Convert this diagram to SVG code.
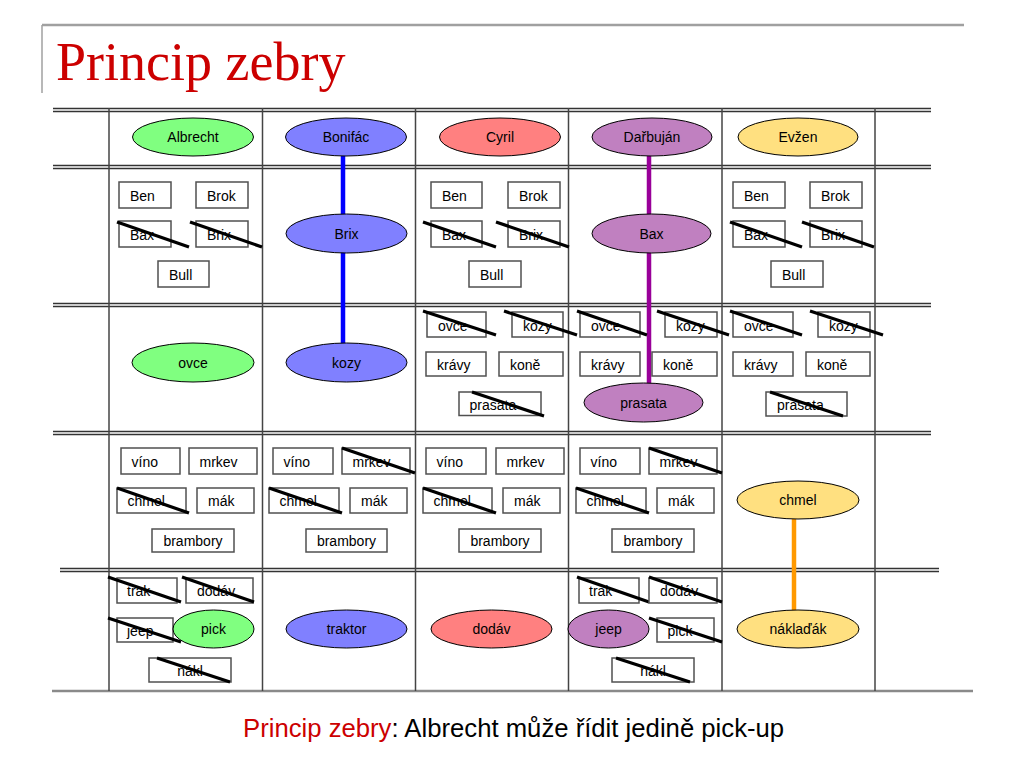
<svg xmlns="http://www.w3.org/2000/svg" width="1024" height="768" viewBox="0 0 1024 768">
<style>
.frame{stroke:#a0a0a0;fill:none}
.hl{stroke:#333;stroke-width:1.3;fill:none}
.vl{stroke:#444;stroke-width:1.5;fill:none}
.bl{stroke:#8a8a8a;stroke-width:2.5;fill:none}
.box rect{fill:#fff;stroke:#505050;stroke-width:1.5}
.t{font-family:"Liberation Sans",Arial,sans-serif;font-size:14px;fill:#000}
.c{text-anchor:middle}
.x{stroke:#000;stroke-width:3.2}
.node ellipse{stroke:#000;stroke-width:1}
.g{fill:#80ff80}.b{fill:#8080ff}.r{fill:#ff8080}.p{fill:#c080c0}.y{fill:#ffe080}
.conn line{stroke-width:4.5;fill:none}
</style>
<rect width="1024" height="768" fill="#fff"/>
<g id="title">
<line class="frame" x1="42" y1="25" x2="964" y2="25" stroke-width="2.5"/>
<line class="frame" x1="42" y1="25" x2="42" y2="93" stroke-width="1.5"/>
<text x="56" y="80" font-family="'Liberation Serif','Times New Roman',serif" font-size="54" fill="#cc0000">Princip zebry</text>
</g>
<g id="table">
<line class="hl" x1="53" y1="108.5" x2="931" y2="108.5"/><line class="hl" x1="53" y1="111.5" x2="931" y2="111.5"/>
<line class="hl" x1="53" y1="165.5" x2="931" y2="165.5"/><line class="hl" x1="53" y1="168.5" x2="931" y2="168.5"/>
<line class="hl" x1="53" y1="303.5" x2="931" y2="303.5"/><line class="hl" x1="53" y1="306.5" x2="931" y2="306.5"/>
<line class="hl" x1="53" y1="431.5" x2="931" y2="431.5"/><line class="hl" x1="53" y1="434.5" x2="931" y2="434.5"/>
<line class="hl" x1="60" y1="568.5" x2="939" y2="568.5"/><line class="hl" x1="60" y1="571.5" x2="939" y2="571.5"/>
<line class="bl" x1="52" y1="691" x2="973" y2="691"/>
<line class="vl" x1="109" y1="108" x2="109" y2="691"/>
<line class="vl" x1="262.5" y1="108" x2="262.5" y2="691"/>
<line class="vl" x1="415.5" y1="108" x2="415.5" y2="691"/>
<line class="vl" x1="568.5" y1="108" x2="568.5" y2="691"/>
<line class="vl" x1="722" y1="108" x2="722" y2="691"/>
<line class="vl" x1="875" y1="108" x2="875" y2="691"/>
</g>
<g id="connectors" class="conn">
<line x1="343" y1="156" x2="343" y2="344" stroke="#0000ff"/>
<line x1="649" y1="156" x2="649" y2="384" stroke="#990099"/>
<line x1="794" y1="519" x2="794" y2="611" stroke="#ff9900"/>
</g>
<g id="albrecht" class="node"><ellipse class="g" cx="193" cy="137" rx="60.5" ry="19"/><text class="t c" x="193" y="142">Albrecht</text></g>
<g id="bonifac" class="node"><ellipse class="b" cx="346" cy="137" rx="60.5" ry="19"/><text class="t c" x="346" y="142">Bonifác</text></g>
<g id="cyril" class="node"><ellipse class="r" cx="500" cy="137" rx="60.5" ry="19"/><text class="t c" x="500" y="142">Cyril</text></g>
<g id="darbujan" class="node"><ellipse class="p" cx="652" cy="137" rx="60" ry="19"/><text class="t c" x="652" y="142">Dařbuján</text></g>
<g id="evzen" class="node"><ellipse class="y" cx="798" cy="137" rx="60" ry="19"/><text class="t c" x="798" y="142">Evžen</text></g>
<g id="a-ben" class="box"><rect x="119" y="182" width="52" height="26"/><text class="t" x="130" y="200.5">Ben</text></g>
<g id="a-brok" class="box"><rect x="196" y="182" width="52" height="26"/><text class="t" x="207" y="200.5">Brok</text></g>
<g id="a-bax" class="box"><rect x="119" y="221" width="52" height="26"/><text class="t" x="130" y="239.5">Bax</text><line class="x" x1="117" y1="222" x2="189" y2="247"/></g>
<g id="a-brix" class="box"><rect x="196" y="221" width="52" height="26"/><text class="t" x="207" y="239.5">Brix</text><line class="x" x1="190" y1="222" x2="262" y2="247"/></g>
<g id="a-bull" class="box"><rect x="158" y="261" width="51" height="26"/><text class="t" x="169" y="279.5">Bull</text></g>
<g id="b-brix" class="node"><ellipse class="b" cx="346.5" cy="233.5" rx="60.5" ry="19.5"/><text class="t c" x="346.5" y="238.5">Brix</text></g>
<g id="c-ben" class="box"><rect x="431" y="182" width="51" height="26"/><text class="t" x="442" y="200.5">Ben</text></g>
<g id="c-brok" class="box"><rect x="508" y="182" width="52" height="26"/><text class="t" x="519" y="200.5">Brok</text></g>
<g id="c-bax" class="box"><rect x="431" y="221" width="51" height="26"/><text class="t" x="442" y="239.5">Bax</text><line class="x" x1="423" y1="222" x2="496" y2="247"/></g>
<g id="c-brix" class="box"><rect x="508" y="221" width="52" height="26"/><text class="t" x="519" y="239.5">Brix</text><line class="x" x1="496" y1="222" x2="569" y2="247"/></g>
<g id="c-bull" class="box"><rect x="469" y="261" width="52" height="26"/><text class="t" x="480" y="279.5">Bull</text></g>
<g id="d-bax" class="node"><ellipse class="p" cx="651.5" cy="233.5" rx="59.5" ry="19.5"/><text class="t c" x="651.5" y="238.5">Bax</text></g>
<g id="e-ben" class="box"><rect x="733" y="182" width="52" height="26"/><text class="t" x="744" y="200.5">Ben</text></g>
<g id="e-brok" class="box"><rect x="810" y="182" width="52" height="26"/><text class="t" x="821" y="200.5">Brok</text></g>
<g id="e-bax" class="box"><rect x="733" y="221" width="52" height="26"/><text class="t" x="744" y="239.5">Bax</text><line class="x" x1="730" y1="222" x2="802" y2="247"/></g>
<g id="e-brix" class="box"><rect x="810" y="221" width="52" height="26"/><text class="t" x="821" y="239.5">Brix</text><line class="x" x1="802" y1="222" x2="874" y2="247"/></g>
<g id="e-bull" class="box"><rect x="771" y="261" width="52" height="26"/><text class="t" x="782" y="279.5">Bull</text></g>
<g id="a-ovce" class="node"><ellipse class="g" cx="193" cy="362.5" rx="61" ry="19.5"/><text class="t c" x="193" y="367.5">ovce</text></g>
<g id="b-kozy" class="node"><ellipse class="b" cx="346.5" cy="362.5" rx="60.5" ry="19.5"/><text class="t c" x="346.5" y="367.5">kozy</text></g>
<g id="c-ovce" class="box"><rect x="427" y="312" width="59" height="25"/><text class="t" x="438" y="330.5">ovce</text><line class="x" x1="423" y1="311" x2="496" y2="335"/></g>
<g id="c-kozy" class="box"><rect x="512" y="312" width="51" height="25"/><text class="t" x="523" y="330.5">kozy</text><line class="x" x1="504" y1="311" x2="577" y2="335"/></g>
<g id="c-kravy" class="box"><rect x="426" y="352" width="60" height="24"/><text class="t" x="437" y="369.5">krávy</text></g>
<g id="c-kone" class="box"><rect x="499" y="352" width="64" height="24"/><text class="t" x="510" y="369.5">koně</text></g>
<g id="c-prasata" class="box"><rect x="459" y="392" width="82" height="23.5"/><text class="t" x="469.5" y="409.5">prasata</text><line class="x" x1="472" y1="392" x2="544" y2="416"/></g>
<g id="d-ovce" class="box"><rect x="580" y="312" width="60" height="25"/><text class="t" x="591" y="330.5">ovce</text><line class="x" x1="577" y1="311" x2="647" y2="335"/></g>
<g id="d-kozy" class="box"><rect x="665" y="312" width="52" height="25"/><text class="t" x="676" y="330.5">kozy</text><line class="x" x1="657" y1="311" x2="729" y2="335"/></g>
<g id="d-kravy" class="box"><rect x="580" y="352" width="60" height="24"/><text class="t" x="591" y="369.5">krávy</text></g>
<g id="d-kone" class="box"><rect x="652" y="352" width="65" height="24"/><text class="t" x="663" y="369.5">koně</text></g>
<g id="d-prasata" class="node"><ellipse class="p" cx="643.5" cy="402.5" rx="59.5" ry="19.5"/><text class="t c" x="643.5" y="407.5">prasata</text></g>
<g id="e-ovce" class="box"><rect x="733" y="312" width="60" height="25"/><text class="t" x="744" y="330.5">ovce</text><line class="x" x1="730" y1="311" x2="802" y2="335"/></g>
<g id="e-kozy" class="box"><rect x="818" y="312" width="52" height="25"/><text class="t" x="829" y="330.5">kozy</text><line class="x" x1="810" y1="311" x2="883" y2="335"/></g>
<g id="e-kravy" class="box"><rect x="733" y="352" width="60" height="24"/><text class="t" x="744" y="369.5">krávy</text></g>
<g id="e-kone" class="box"><rect x="806" y="352" width="64" height="24"/><text class="t" x="817" y="369.5">koně</text></g>
<g id="e-prasata" class="box"><rect x="766" y="392" width="81" height="24"/><text class="t" x="777" y="409.5">prasata</text><line class="x" x1="770" y1="392" x2="843" y2="416"/></g>
<g id="a-vino" class="box"><rect x="121" y="448" width="59" height="26"/><text class="t" x="131.5" y="466.5">víno</text></g>
<g id="a-mrkev" class="box"><rect x="189" y="448" width="68" height="26"/><text class="t" x="199.5" y="466.5">mrkev</text></g>
<g id="a-chmel" class="box"><rect x="117" y="488" width="69" height="25"/><text class="t" x="127.5" y="506">chmel</text><line class="x" x1="117" y1="488" x2="189" y2="513"/></g>
<g id="a-mak" class="box"><rect x="197" y="488" width="57" height="25"/><text class="t" x="208" y="506">mák</text></g>
<g id="a-brambory" class="box"><rect x="152" y="529" width="82" height="23"/><text class="t c" x="193" y="546">brambory</text></g>
<g id="b-vino" class="box"><rect x="273" y="448" width="60" height="26"/><text class="t" x="283.5" y="466.5">víno</text></g>
<g id="b-mrkev" class="box"><rect x="342" y="448" width="68" height="26"/><text class="t" x="352.5" y="466.5">mrkev</text><line class="x" x1="342" y1="448" x2="415" y2="473"/></g>
<g id="b-chmel" class="box"><rect x="269" y="488" width="70" height="25"/><text class="t" x="279.5" y="506">chmel</text><line class="x" x1="269" y1="488" x2="342" y2="513"/></g>
<g id="b-mak" class="box"><rect x="350" y="488" width="57" height="25"/><text class="t" x="361" y="506">mák</text></g>
<g id="b-brambory" class="box"><rect x="306" y="529" width="81" height="23"/><text class="t c" x="346.5" y="546">brambory</text></g>
<g id="c-vino" class="box"><rect x="426" y="448" width="60" height="26"/><text class="t" x="436.5" y="466.5">víno</text></g>
<g id="c-mrkev" class="box"><rect x="496" y="448" width="68" height="26"/><text class="t" x="506.5" y="466.5">mrkev</text></g>
<g id="c-chmel" class="box"><rect x="423" y="488" width="69" height="25"/><text class="t" x="433.5" y="506">chmel</text><line class="x" x1="423" y1="488" x2="496" y2="513"/></g>
<g id="c-mak" class="box"><rect x="503" y="488" width="57" height="25"/><text class="t" x="514" y="506">mák</text></g>
<g id="c-brambory" class="box"><rect x="459" y="529" width="82" height="23"/><text class="t c" x="500" y="546">brambory</text></g>
<g id="d-vino" class="box"><rect x="580" y="448" width="60" height="26"/><text class="t" x="590.5" y="466.5">víno</text></g>
<g id="d-mrkev" class="box"><rect x="649" y="448" width="68" height="26"/><text class="t" x="659.5" y="466.5">mrkev</text><line class="x" x1="649" y1="448" x2="722" y2="473"/></g>
<g id="d-chmel" class="box"><rect x="576" y="488" width="70" height="25"/><text class="t" x="586.5" y="506">chmel</text><line class="x" x1="576" y1="488" x2="649" y2="513"/></g>
<g id="d-mak" class="box"><rect x="657" y="488" width="57" height="25"/><text class="t" x="668" y="506">mák</text></g>
<g id="d-brambory" class="box"><rect x="612" y="529" width="82" height="23"/><text class="t c" x="653" y="546">brambory</text></g>
<g id="e-chmel" class="node"><ellipse class="y" cx="798" cy="500" rx="61" ry="19"/><text class="t c" x="798" y="505">chmel</text></g>
<g id="a-trak" class="box"><rect x="117" y="578" width="60" height="25"/><text class="t" x="127" y="596">trak</text><line class="x" x1="108" y1="577" x2="181" y2="602"/></g>
<g id="a-dodav" class="box"><rect x="186" y="578" width="67" height="25"/><text class="t" x="197" y="596">dodáv</text><line class="x" x1="182" y1="577" x2="254" y2="602"/></g>
<g id="a-jeep" class="box"><rect x="117" y="618" width="56" height="24"/><text class="t" x="127" y="635.5">jeep</text><line class="x" x1="108" y1="618" x2="181" y2="642"/></g>
<g id="a-pick" class="node"><ellipse class="g" cx="213.5" cy="629" rx="40.5" ry="19"/><text class="t c" x="213.5" y="634">pick</text></g>
<g id="a-nakl" class="box"><rect x="149" y="658" width="82" height="24"/><text class="t c" x="190" y="675.5">nákl</text><line class="x" x1="157" y1="658" x2="230" y2="682"/></g>
<g id="b-traktor" class="node"><ellipse class="b" cx="346.5" cy="629" rx="60.5" ry="19"/><text class="t c" x="346.5" y="634">traktor</text></g>
<g id="c-dodav" class="node"><ellipse class="r" cx="491.5" cy="629" rx="60.5" ry="19"/><text class="t c" x="491.5" y="634">dodáv</text></g>
<g id="d-trak" class="box"><rect x="579" y="578" width="60" height="25"/><text class="t" x="589" y="596">trak</text><line class="x" x1="577" y1="577" x2="649" y2="602"/></g>
<g id="d-dodav" class="box"><rect x="649" y="578" width="68" height="25"/><text class="t" x="660" y="596">dodáv</text><line class="x" x1="649" y1="577" x2="722" y2="602"/></g>
<g id="d-jeep" class="node"><ellipse class="p" cx="608.5" cy="629" rx="40.5" ry="19"/><text class="t c" x="608.5" y="634">jeep</text></g>
<g id="d-pick" class="box"><rect x="657" y="618" width="57" height="24"/><text class="t" x="667.5" y="635.5">pick</text><line class="x" x1="649" y1="618" x2="722" y2="642"/></g>
<g id="d-nakl" class="box"><rect x="612" y="658" width="82" height="24"/><text class="t c" x="653" y="675.5">nákl</text><line class="x" x1="616" y1="658" x2="690" y2="682"/></g>
<g id="e-naklad" class="node"><ellipse class="y" cx="798" cy="629" rx="61" ry="19"/><text class="t c" x="798" y="634">náklaďák</text></g>
<g id="caption">
<text x="243" y="737" font-family="'Liberation Sans',Arial,sans-serif" font-size="25.7"><tspan fill="#cc0000">Princip zebry</tspan><tspan fill="#000">: Albrecht může řídit jedině pick-up</tspan></text>
</g>
</svg>
